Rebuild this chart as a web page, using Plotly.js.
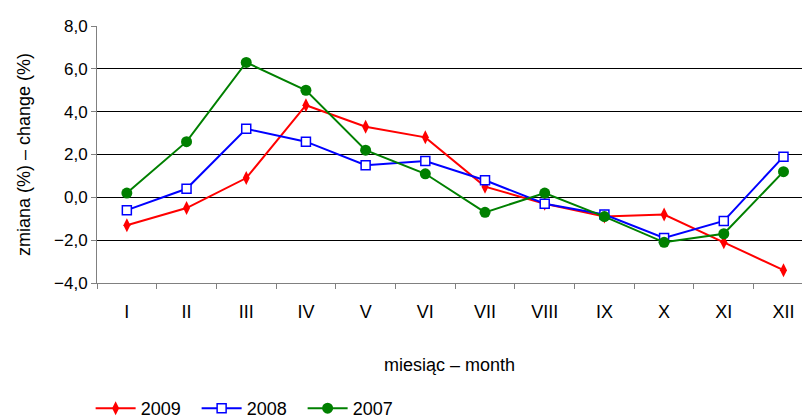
<!DOCTYPE html>
<html>
<head>
<meta charset="utf-8">
<script src="https://cdn.plot.ly/plotly-3.0.1.min.js"></script>
<style>html,body{margin:0;padding:0;background:#fff;overflow:hidden;}</style>
</head>
<body>
<div id="chart" style="width:802px;height:419px;"></div>
<script>
const months = ["I","II","III","IV","V","VI","VII","VIII","IX","X","XI","XII"];
const y2009 = [-1.3, -0.5, 0.9, 4.3, 3.3, 2.8, 0.5, -0.3, -0.9, -0.8, -2.1, -3.4];
const y2008 = [-0.6, 0.4, 3.2, 2.6, 1.5, 1.7, 0.8, -0.3, -0.8, -1.9, -1.1, 1.9];
const y2007 = [0.2, 2.6, 6.3, 5.0, 2.2, 1.1, -0.7, 0.2, -0.9, -2.1, -1.7, 1.2];
const yTicks = [-4, -2, 0, 2, 4, 6, 8];

const fam = "Liberation Sans, Arial, sans-serif";
const font = {family: fam, size: 18, color: "#000"};
const yTickFont = {family: fam, size: 17, color: "#000"};

const traces = [
  {x: months, y: y2009, name: "2009", type: "scatter", mode: "lines+markers",
   line: {color: "#FF0000", width: 2},
   marker: {symbol: "diamond-tall", size: 10, color: "#FF0000"}},
  {x: months, y: y2008, name: "2008", type: "scatter", mode: "lines+markers",
   line: {color: "#0000FF", width: 2},
   marker: {symbol: "square", size: 9, color: "#FFFFFF", line: {color: "#0000FF", width: 1.5}}},
  {x: months, y: y2007, name: "2007", type: "scatter", mode: "lines+markers",
   line: {color: "#008000", width: 2},
   marker: {symbol: "circle", size: 11, color: "#008000"}}
];

const layout = {
  width: 802, height: 419,
  margin: {l: 97, r: 0, t: 26, b: 136, pad: 0},
  paper_bgcolor: "#fff", plot_bgcolor: "#fff",
  font: font,
  separators: ", ",
  showlegend: true,
  legend: {orientation: "h", xref: "container", yref: "container", x: 0.113, y: 0.025,
           xanchor: "left", yanchor: "middle", font: font, itemwidth: 40,
           entrywidth: 51, entrywidthmode: "pixels",
           bgcolor: "rgba(0,0,0,0)"},
  xaxis: {type: "category", range: [-0.5, 11.31], categoryorder: "array", categoryarray: months,
          showgrid: false, zeroline: false, showline: true, linecolor: "#808080", linewidth: 1,
          ticks: "outside", ticklen: 5, tickcolor: "#808080", tickson: "boundaries",
          ticklabelstandoff: 12, tickfont: font},
  yaxis: {range: [-4, 8], tickvals: yTicks, tickformat: ".1f",
          showgrid: true, gridcolor: "#000", gridwidth: 1,
          zeroline: true, zerolinecolor: "#000", zerolinewidth: 1,
          showline: true, linecolor: "#808080", linewidth: 1,
          ticks: "outside", ticklen: 5, tickcolor: "#808080", tickfont: yTickFont,
          title: {text: "zmiana (%) – change (%)", font: font, standoff: 18}},
  annotations: [
    {text: "miesiąc – month", xref: "paper", yref: "paper", x: 0.5, y: -0.319,
     xanchor: "center", yanchor: "middle", showarrow: false, font: font}
  ]
};

Plotly.newPlot("chart", traces, layout, {displayModeBar: false, staticPlot: true});
</script>
</body>
</html>
